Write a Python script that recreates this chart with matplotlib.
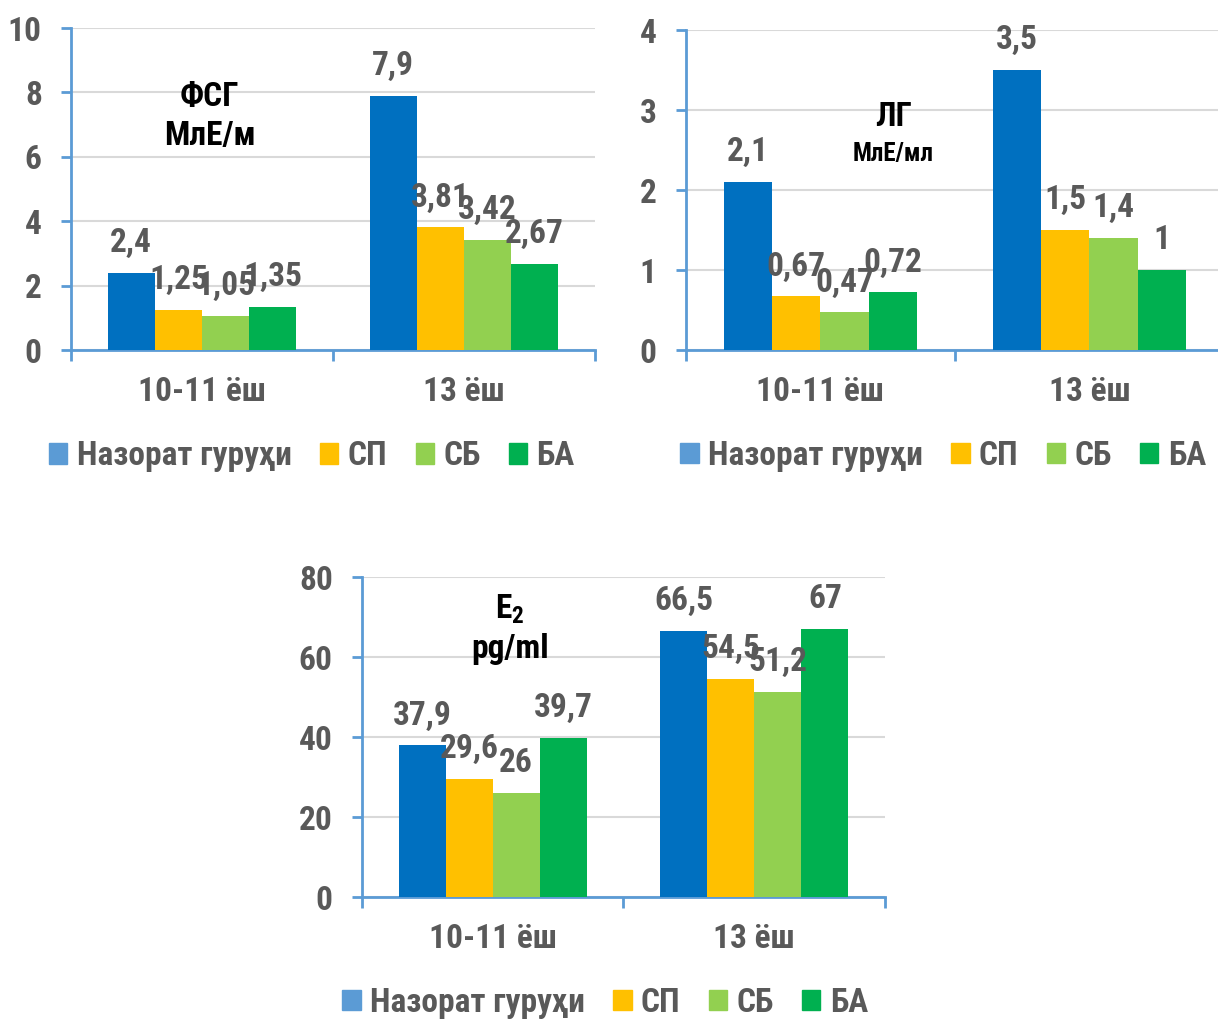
import matplotlib
matplotlib.use("Agg")
import matplotlib.pyplot as plt
from matplotlib.patches import Patch

plt.rcParams['font.family'] = ['Roboto Condensed', 'DejaVu Sans']
plt.rcParams['font.weight'] = 'bold'

# data
categories = ['10-11 ёш', '13 ёш']
groups = ['Назорат гуруҳи', 'СП', 'СБ', 'БА']

fsh = [[2.4, 7.9], [1.25, 3.81], [1.05, 3.42], [1.35, 2.67]]
lh = [[2.1, 3.5], [0.67, 1.5], [0.47, 1.4], [0.72, 1.0]]
e2 = [[37.9, 66.5], [29.6, 54.5], [26, 51.2], [39.7, 67]]

bar_colors = ['#0070C0', '#FFC000', '#92D050', '#00B050']
legend_colors = ['#5B9BD5', '#FFC000', '#92D050', '#00B050']
TEXT = '#595959'
AXIS = '#5B9BD5'
GRID = '#D9D9D9'
FS = 24


def fmt(v):
    return f"{v:g}".replace('.', ',')


def panel(fig, rect, values, ymax, ystep, legend_x):
    ax = fig.add_axes(rect)
    width = 0.18
    x = [0, 1]
    for i, (vals, col) in enumerate(zip(values, bar_colors)):
        pos = [xi + (i - 1.5) * width for xi in x]
        ax.bar(pos, vals, width, color=col, zorder=3)
        for p, v in zip(pos, vals):
            ax.annotate(fmt(v), (p, v), xytext=(0, 10), textcoords='offset points',
                        ha='center', va='bottom', fontsize=FS, color=TEXT,
                        fontweight='bold', zorder=4)
    ax.set_xlim(-0.5, 1.5)
    ax.set_ylim(0, ymax)
    ax.set_yticks([ystep * k for k in range(int(ymax / ystep) + 1)])
    ax.set_xticks(x)
    ax.set_xticklabels(categories)
    ax.set_xticks([-0.5, 0.5, 1.5], minor=True)
    ax.tick_params(axis='x', which='major', length=0, pad=19, labelsize=FS,
                   labelcolor=TEXT)
    ax.tick_params(axis='x', which='minor', length=8, width=2, color=AXIS)
    ax.tick_params(axis='y', length=7, width=2, color=AXIS, pad=14,
                   labelsize=FS, labelcolor=TEXT)
    for s in ['top', 'right']:
        ax.spines[s].set_visible(False)
    for s in ['left', 'bottom']:
        ax.spines[s].set_color(AXIS)
        ax.spines[s].set_linewidth(2)
    ax.yaxis.grid(True, color=GRID, linewidth=1.5, zorder=0)
    ax.set_axisbelow(True)

    handles = [Patch(color=c, label=g) for c, g in zip(legend_colors, groups)]
    ax.legend(handles=handles, loc='center', bbox_to_anchor=(legend_x, -0.33),
              ncol=4, frameon=False, fontsize=FS, handlelength=0.55,
              handleheight=0.55, handletextpad=0.28, columnspacing=0.85,
              labelcolor=TEXT, borderpad=0)
    return ax


fig = plt.figure(figsize=(12.18, 10.19), dpi=100)

ax1 = panel(fig, [0.0583, 0.6565, 0.430, 0.316], fsh, 10, 2, 0.46)
ax1.text(0.265, 0.725, 'ФСГ\nМлЕ/м', transform=ax1.transAxes, ha='center',
         va='center', fontsize=FS, fontweight='bold', color='black',
         linespacing=1.3)

ax2 = panel(fig, [0.5632, 0.6565, 0.4417, 0.314], lh, 4, 1, 0.478)
ax2.text(0.385, 0.728, 'ЛГ', transform=ax2.transAxes, ha='center',
         va='center', fontsize=FS, fontweight='bold', color='black')
ax2.text(0.385, 0.613, 'МлЕ/мл', transform=ax2.transAxes, ha='center',
         va='center', fontsize=18, fontweight='bold', color='black')

ax3 = panel(fig, [0.2972, 0.1197, 0.4294, 0.314], e2, 80, 20, 0.465)
ax3.text(0.283, 0.9, 'E$_\\mathregular{2}$', transform=ax3.transAxes,
         ha='center', va='center', fontsize=FS, fontweight='bold',
         color='black')
ax3.text(0.283, 0.775, 'pg/ml', transform=ax3.transAxes, ha='center',
         va='center', fontsize=FS, fontweight='bold', color='black')

fig.savefig('out.png', dpi=100)
